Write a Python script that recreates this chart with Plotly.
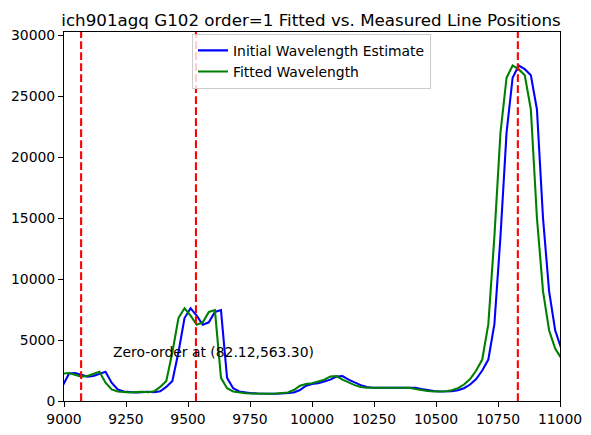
import plotly.graph_objects as go

# pixel wavelengths of the extracted spectrum (Angstrom)
initial_wave = [8996.0, 9020.5, 9045.0, 9069.5, 9094.0, 9118.5, 9143.0, 9167.5, 9192.0, 9216.5,
                9241.0, 9265.5, 9290.0, 9314.5, 9339.0, 9363.5, 9388.0, 9412.5, 9437.0, 9461.5,
                9486.0, 9510.5, 9535.0, 9559.5, 9584.0, 9608.5, 9633.0, 9657.5, 9682.0, 9706.5,
                9731.0, 9755.5, 9780.0, 9804.5, 9829.0, 9853.5, 9878.0, 9902.5, 9927.0, 9951.5,
                9976.0, 10000.5, 10025.0, 10049.5, 10074.0, 10098.5, 10123.0, 10147.5, 10172.0, 10196.5,
                10221.0, 10245.5, 10270.0, 10294.5, 10319.0, 10343.5, 10368.0, 10392.5, 10417.0, 10441.5,
                10466.0, 10490.5, 10515.0, 10539.5, 10564.0, 10588.5, 10613.0, 10637.5, 10662.0, 10686.5,
                10711.0, 10735.5, 10760.0, 10784.5, 10809.0, 10833.5, 10858.0, 10882.5, 10907.0, 10931.5,
                10956.0, 10980.5, 11005.0, 11029.5]

fitted_wave = [8971.5, 8996.0, 9020.5, 9045.0, 9069.5, 9094.0, 9118.5, 9143.0, 9167.5, 9192.0,
               9216.5, 9241.0, 9265.5, 9290.0, 9314.5, 9339.0, 9363.5, 9388.0, 9412.5, 9437.0,
               9461.5, 9486.0, 9510.5, 9535.0, 9559.5, 9584.0, 9608.5, 9633.0, 9657.5, 9682.0,
               9706.5, 9731.0, 9755.5, 9780.0, 9804.5, 9829.0, 9853.5, 9878.0, 9902.5, 9927.0,
               9951.5, 9976.0, 10000.5, 10025.0, 10049.5, 10074.0, 10098.5, 10123.0, 10147.5, 10172.0,
               10196.5, 10221.0, 10245.5, 10270.0, 10294.5, 10319.0, 10343.5, 10368.0, 10392.5, 10417.0,
               10441.5, 10466.0, 10490.5, 10515.0, 10539.5, 10564.0, 10588.5, 10613.0, 10637.5, 10662.0,
               10686.5, 10711.0, 10735.5, 10760.0, 10784.5, 10809.0, 10833.5, 10858.0, 10882.5, 10907.0,
               10931.5, 10956.0, 10980.5, 11005.0]

flux = [1300, 2250, 2300, 2150, 2000, 2050, 2250, 2400, 1500, 950,
        780, 720, 700, 730, 760, 720, 800, 1150, 1650, 4000,
        6800, 7600, 7000, 6250, 6450, 7300, 7450, 1900, 1050, 780,
        680, 640, 620, 600, 600, 600, 610, 630, 700, 900,
        1250, 1400, 1450, 1600, 1750, 2000, 2050, 1750, 1500, 1300,
        1150, 1080, 1080, 1080, 1100, 1100, 1120, 1120, 1080, 980,
        880, 820, 780, 770, 800, 880, 1050, 1350, 1800, 2500,
        3400, 6300, 13500, 22000, 26500, 27500, 27200, 26700, 23900, 15000,
        9000, 5800, 4300, 3500]

line_positions = [9069, 9532, 10830]
zero_order = (82.12, 563.30)

fig = go.Figure()
fig.add_trace(go.Scatter(x=initial_wave, y=flux, mode="lines", name="Initial Wavelength Estimate",
                         line=dict(color="blue", width=2.08)))
fig.add_trace(go.Scatter(x=fitted_wave, y=flux, mode="lines", name="Fitted Wavelength",
                         line=dict(color="green", width=2.08)))

for wl in line_positions:
    fig.add_shape(type="line", x0=wl, x1=wl, y0=0, y1=1, xref="x", yref="paper",
                  line=dict(color="red", width=2.08, dash="7.7px,3.3px"))

fig.add_annotation(x=9190, y=3200, text="Zero-order at (%.2f,%.2f)" % zero_order,
                   showarrow=False, xanchor="left", yanchor="bottom",
                   font=dict(size=13.9, color="black"))

axis_style = dict(showline=True, linecolor="black", linewidth=1, mirror=True, automargin=False,
                  ticks="outside", ticklen=5, tickcolor="black", showgrid=False, zeroline=False,
                  tickformat="d", tickfont=dict(size=13.9, color="black"))

fig.update_xaxes(range=[9000, 11000], tickvals=list(range(9000, 11001, 250)), **axis_style)
fig.update_yaxes(range=[0, 30250], tickvals=list(range(0, 30001, 5000)), **axis_style)

# the page body adds an 8px offset, margins are reduced to compensate
fig.update_layout(
    width=591, height=435,
    margin=dict(l=56, r=39, t=24, b=42),
    plot_bgcolor="white", paper_bgcolor="white",
    font=dict(family="DejaVu Sans", color="black"),
    title=dict(text="ich901agq G102 order=1 Fitted vs. Measured Line Positions",
               x=303 / 591, xanchor="center", y=0.972, yanchor="middle",
               font=dict(size=16.7, color="black")),
    legend=dict(x=(192 - 64) / 496, y=0.995, xanchor="left", yanchor="top",
                bordercolor="#cccccc", borderwidth=1, bgcolor="rgba(255,255,255,0.8)",
                font=dict(size=13.9), tracegroupgap=0),
    showlegend=True,
)

fig.write_html("out.html")
